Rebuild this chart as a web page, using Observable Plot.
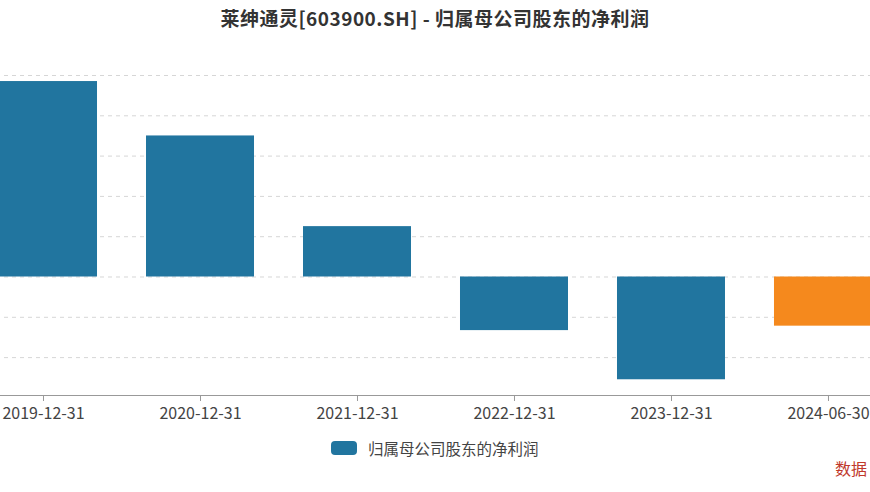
<!DOCTYPE html>
<html>
<head>
<meta charset="utf-8">
<script src="https://cdn.jsdelivr.net/npm/d3@7"></script>
<script src="https://cdn.jsdelivr.net/npm/@observablehq/plot@0.6"></script>
<style>
  html, body { margin: 0; padding: 0; background: #fff; overflow: hidden; width: 870px; height: 492px; }
  body { position: relative; font-family: "Noto Sans CJK SC", "Noto Sans", sans-serif; }
  #title { position: absolute; top: 4px; left: 0; width: 870px; text-align: center; font-size: 19px; letter-spacing: 0.5px; font-weight: bold; color: #333; }
  #chart { position: absolute; top: 0; left: -135.65px; width: 1063.8px; }
  #chart svg { max-width: none !important; }
  #legend { position: absolute; top: 437px; left: 331px; display: flex; align-items: center; font-size: 15.5px; color: #444; white-space: nowrap; }
  #legend .sw { width: 26px; height: 14px; border-radius: 4px; margin-right: 11px; }
  #source { position: absolute; top: 456px; left: 835px; font-size: 16px; color: #c0392b; white-space: nowrap; }
</style>
</head>
<body>
<div id="title">莱绅通灵[603900.SH] - 归属母公司股东的净利润</div>
<div id="chart"></div>
<div id="legend"><div class="sw"></div><span>归属母公司股东的净利润</span></div>
<div id="source">数据</div>
<script>
const categories = ["2019-12-31", "2020-12-31", "2021-12-31", "2022-12-31", "2023-12-31", "2024-06-30"];
const values = [0.97, 0.70, 0.25, -0.266, -0.51, -0.244]; // 亿元
const barColors = ["#21759f", "#21759f", "#21759f", "#21759f", "#21759f", "#f5891d"];
const yTicks = [-0.4, -0.2, 0, 0.2, 0.4, 0.6, 0.8, 1.0];
const seriesName = "归属母公司股东的净利润";

document.querySelector("#legend .sw").style.background = barColors[0];

const data = categories.map((c, i) => ({date: c, value: values[i], color: barColors[i]}));
const yMin = -0.588, yMax = 1.0;

const chart = Plot.plot({
  width: 1063.8,
  height: 430,
  marginLeft: 100,
  marginRight: 20,
  marginTop: 75,
  marginBottom: 35,
  style: {fontFamily: "'Noto Sans CJK SC', sans-serif", background: "transparent", maxWidth: "none"},
  x: {domain: categories, paddingInner: 0.31, paddingOuter: 0.155, label: null},
  y: {domain: [yMin, yMax], label: null, axis: null},
  color: {type: "identity"},
  marks: [
    Plot.gridY(yTicks, {stroke: "#d6d6d6", strokeOpacity: 1, strokeDasharray: "4,4"}),
    Plot.barY(data, {x: "date", y: "value", fill: "color"}),
    Plot.ruleY([yMin], {stroke: "#999", strokeWidth: 1.2}),
    Plot.axisX({tickSize: 6, tickPadding: 6, fontSize: 16, fill: "#444", stroke: "#999"})
  ]
});
document.getElementById("chart").appendChild(chart);
</script>
</body>
</html>
